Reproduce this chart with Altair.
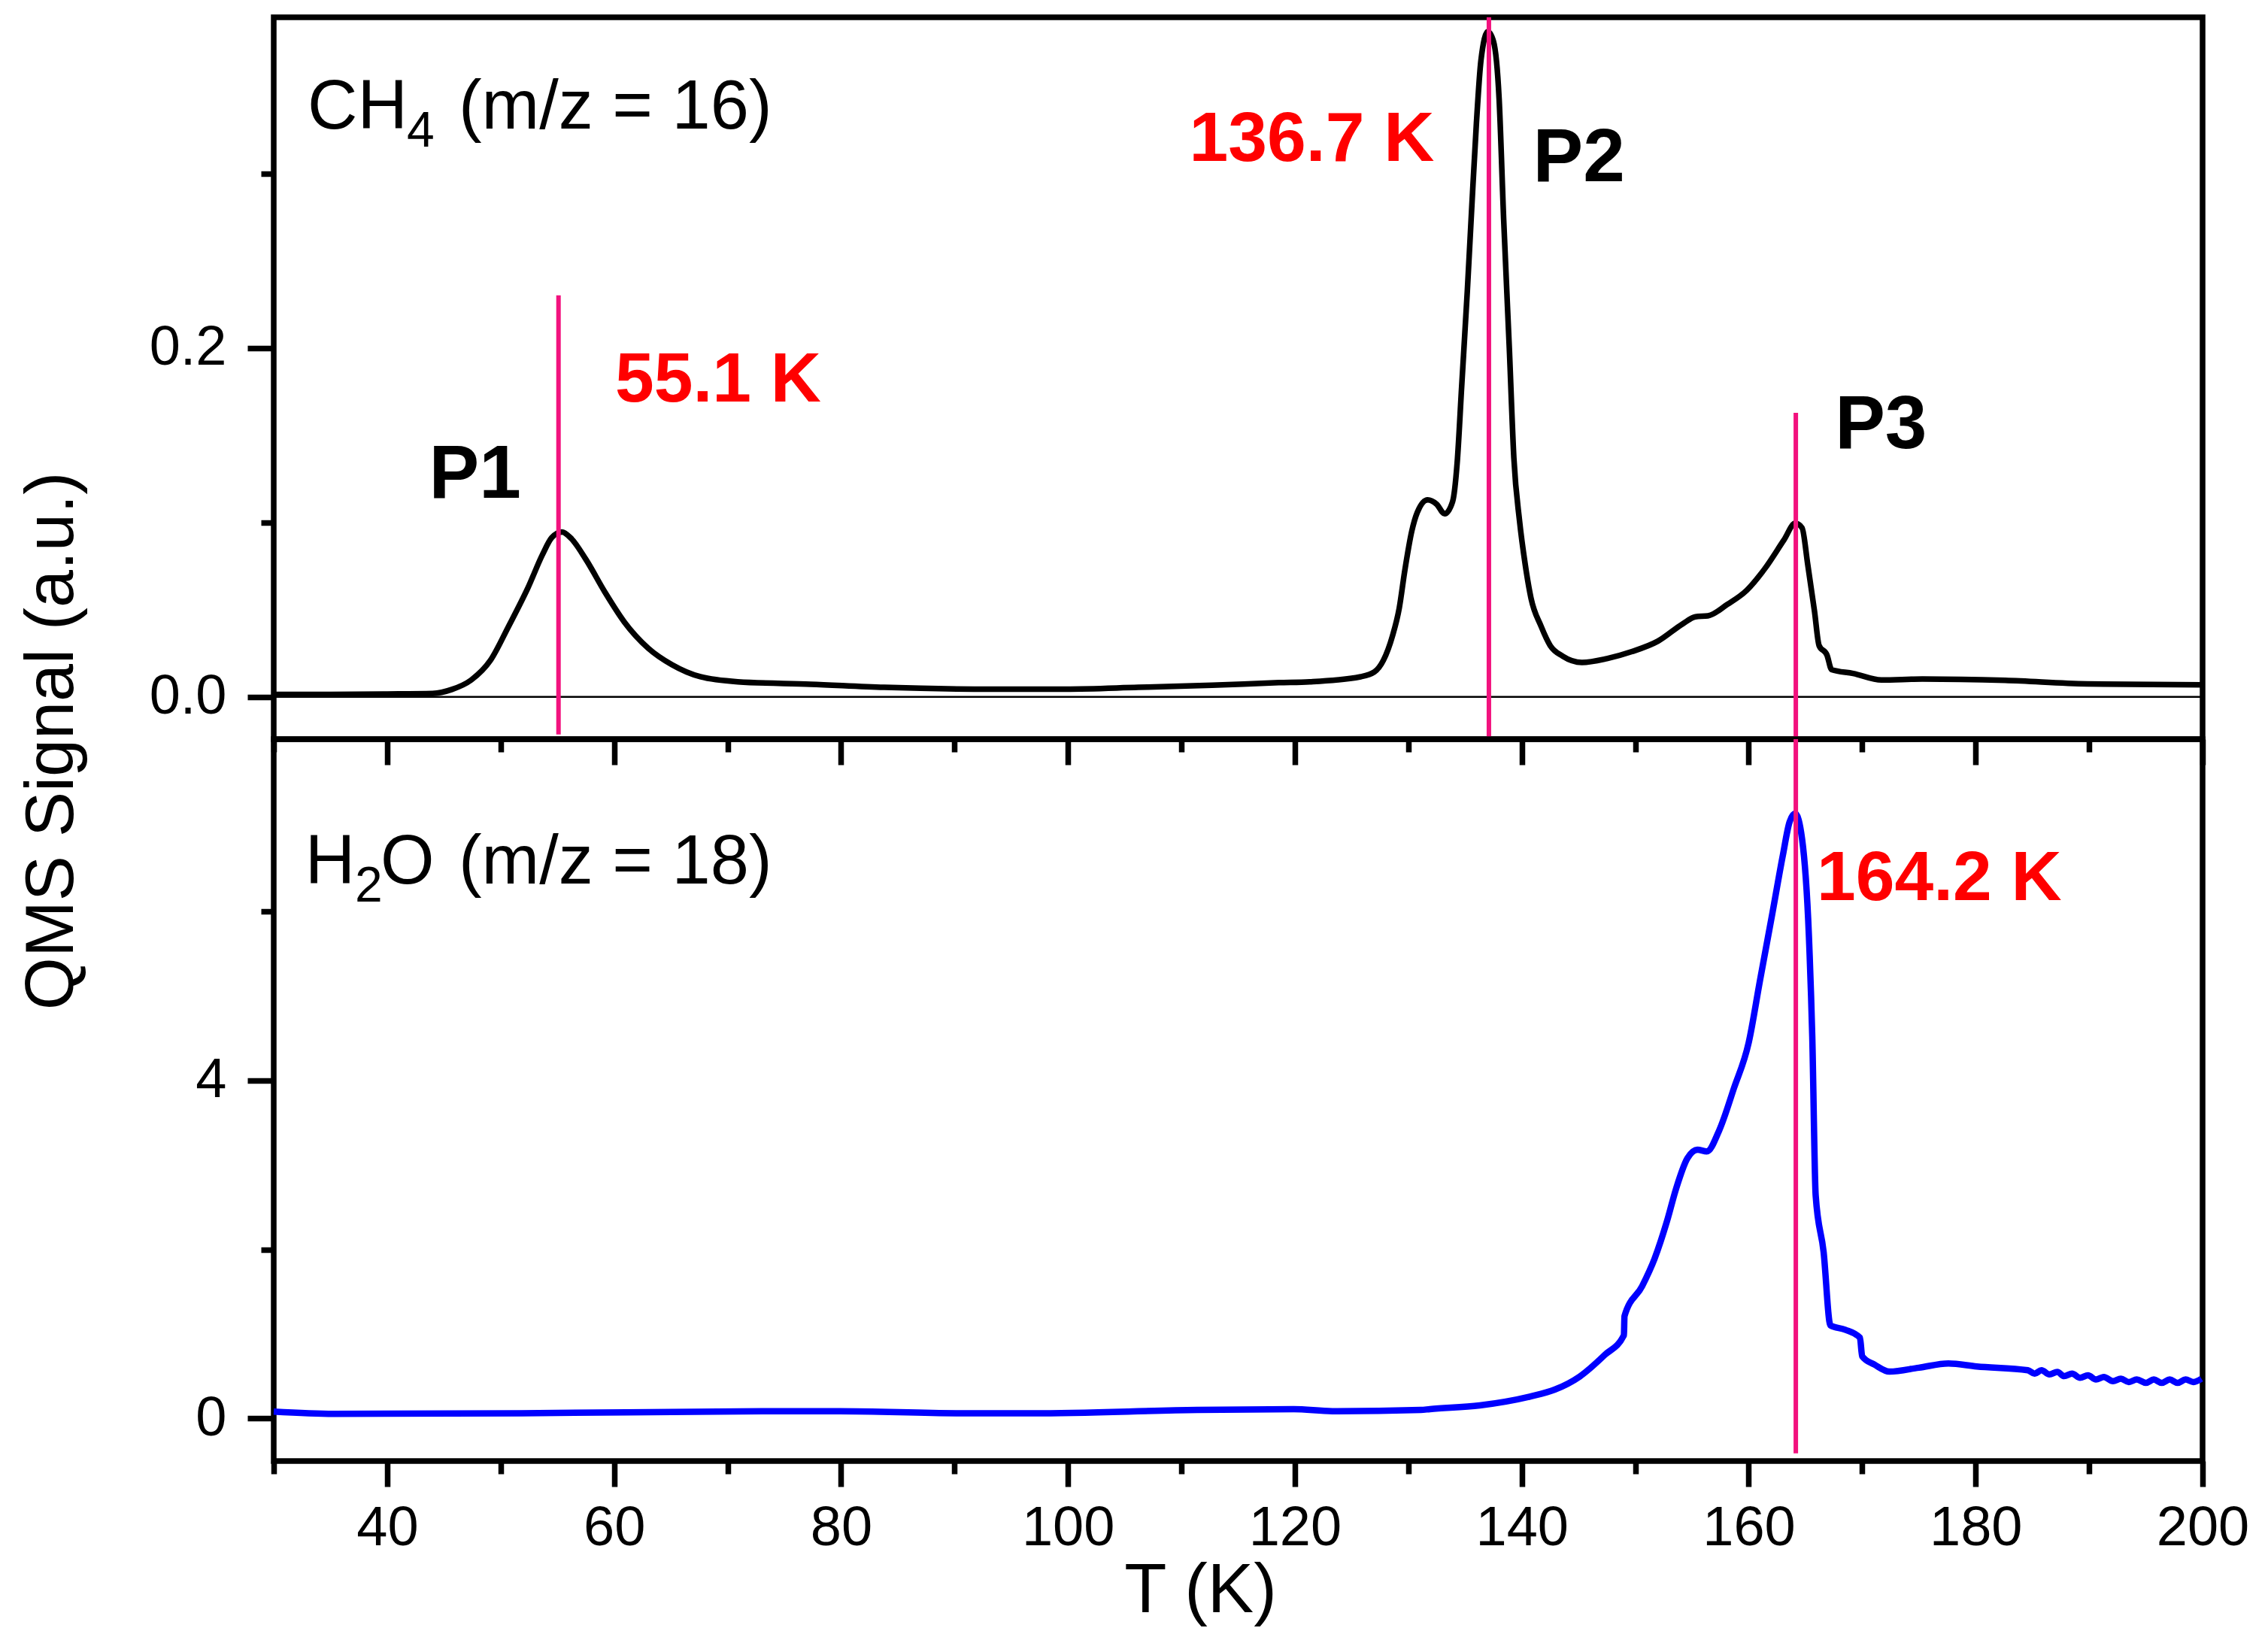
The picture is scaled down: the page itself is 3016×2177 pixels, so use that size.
import altair as alt
import pandas as pd

FONT = "Liberation Sans, Arial, sans-serif"
PINK = "#F2127E"

# ---------------- data ----------------
ch4_T = [30, 35, 40, 44.0, 45.7, 47.4, 49.1, 50.7, 52.4, 53.7, 54.5, 55.4, 56.2, 57.5, 59.2,
         60.9, 63.0, 65.1, 67.6, 70.9, 77.3, 83.8, 93.4, 99.8, 106.2, 112.7, 118.6, 121.3,
         125.8, 127.0, 127.8, 128.6, 129.2, 129.7, 130.3, 130.8, 131.7, 132.5, 133.2, 133.9,
         134.3, 134.7, 135.2, 135.6, 136.0, 136.4, 137.0, 137.5, 138.0, 138.4, 138.9, 139.3,
         139.8, 140.3, 140.8, 141.7, 142.5, 143.6, 145.3, 147.5, 149.7, 152.0, 154.2, 155.3,
         156.4, 158.1, 159.8, 161.4, 163.1, 164.1, 164.7, 165.2, 165.8, 166.2, 166.9, 167.3,
         169.2, 171.7, 175.3, 182.6, 189.8, 200]
ch4_S = [0.0015, 0.0015, 0.0017, 0.002, 0.0043, 0.0097, 0.021, 0.0405, 0.0625, 0.0818, 0.0913,
         0.0946, 0.091, 0.079, 0.060, 0.043, 0.028, 0.0185, 0.0116, 0.0087, 0.0073, 0.0055,
         0.0045, 0.0045, 0.0055, 0.0067, 0.0082, 0.0087, 0.0116, 0.0143, 0.021, 0.035, 0.051,
         0.073, 0.095, 0.106, 0.113, 0.1105, 0.105, 0.112, 0.134, 0.178, 0.233, 0.282, 0.329,
         0.365, 0.3815, 0.376, 0.343, 0.274, 0.200, 0.137, 0.101, 0.076, 0.057, 0.0405, 0.0295,
         0.0234, 0.0198, 0.022, 0.026, 0.032, 0.042, 0.046, 0.0465, 0.053, 0.061, 0.0734, 0.090,
         0.0996, 0.097, 0.076, 0.049, 0.0295, 0.024, 0.0157, 0.0135, 0.0097, 0.0103, 0.0095,
         0.0075, 0.0069]

h2o_T = [30, 35.3, 51.8, 73.3, 79.9, 90.3, 96.9, 111.4, 119.9, 123.3, 131.1, 131.9, 136.3,
         140.7, 142.9, 145.1, 147.3, 149.0, 149.05, 150.6, 151.7, 152.8, 153.6, 154.6, 155.5,
         156.3, 157.4, 158.7, 160.0, 161.0, 162.1, 163.0, 163.6, 164.1, 164.7, 165.3, 165.6,
         165.9, 166.6, 167.2, 168.5, 169.8, 170.0, 171.1, 172.4, 175.0, 177.6, 180.1, 184.6,
         185.2, 185.8, 186.5, 187.2, 187.8, 188.5, 189.2, 189.9, 190.6, 191.3, 192.1, 192.8,
         193.5, 194.2, 195.0, 195.7, 196.4, 197.1, 197.8, 198.5, 199.2, 199.9]
h2o_S = [0.08, 0.053, 0.06, 0.085, 0.085, 0.06, 0.06, 0.10, 0.11, 0.085, 0.10, 0.11, 0.154,
         0.258, 0.34, 0.495, 0.75, 0.985, 1.21, 1.564, 1.89, 2.336, 2.72, 3.08, 3.18, 3.16,
         3.41, 3.91, 4.45, 5.19, 5.99, 6.66, 7.06, 7.16, 6.86, 5.72, 4.52, 2.64, 1.97, 1.10,
         1.05, 0.955, 0.735, 0.635, 0.554, 0.60, 0.65, 0.615, 0.57,
         0.53, 0.57, 0.52, 0.55, 0.50, 0.53, 0.48, 0.51, 0.46, 0.49, 0.44, 0.47, 0.43, 0.46,
         0.42, 0.46, 0.42, 0.46, 0.42, 0.46, 0.43, 0.47]

# peak marker lines (position in K, vertical extent in signal units)
top_line_T = [55.1, 137.1, 164.15]
top_line_y1 = [0.2303, 0.3897, 0.1629]
top_line_y2 = [-0.0215, -0.0242, -0.0242]
bot_line_T = [164.15]
bot_line_y1 = [8.04]
bot_line_y2 = [-0.413]

# annotation texts (anchor in data units)
top_main_txt = ["CH", "(m/z = 16)"]
top_main_T = [32.98, 46.30]
top_main_S = [0.3259, 0.3259]
top_sub_txt = ["4"]
top_sub_T = [41.73]
top_sub_S = [0.3259]
peak_txt = ["P1", "P2", "P3"]
peak_T = [43.69, 140.98, 167.60]
peak_S = [0.1142, 0.2958, 0.1428]
top_red_txt = ["55.1 K", "136.7 K"]
top_red_T = [60.09, 110.7]
top_red_S = [0.1692, 0.3073]

bot_main_txt = ["H", "O", "(m/z = 18)"]
bot_main_T = [32.76, 39.41, 46.30]
bot_main_S = [6.334, 6.334, 6.334]
bot_sub_txt = ["2"]
bot_sub_T = [37.16]
bot_sub_S = [6.334]
bot_red_txt = ["164.2 K"]
bot_red_T = [166.0]
bot_red_S = [6.132]

x_ticks = list(range(30, 201, 10))
top_y_ticks = [0, 0.1, 0.2, 0.3]
bot_y_ticks = [0, 2, 4, 6]

# ---------------- layout ----------------
W = 2565
H_TOP = 960
H_BOT = 960

xdom = alt.Scale(domain=[30, 200], nice=False, zero=False)
ytop = alt.Scale(domain=[-0.0242, 0.3897], nice=False, zero=False)
ybot = alt.Scale(domain=[-0.505, 8.04], nice=False, zero=False)

common_axis = dict(domain=False, grid=False, tickWidth=7.5, tickColor="black",
                   labelFont=FONT, labelFontSize=74, labelColor="black",
                   titleFont=FONT, titleColor="black", titleFontWeight="normal")

x_top_axis = alt.Axis(values=x_ticks, labels=False, title=None,
                      tickSize={"condition": {"test": "datum.value % 20 === 0", "value": 34}, "value": 17},
                      **common_axis)
x_bot_axis = alt.Axis(values=x_ticks, title="T (K)", titleFontSize=92,
                      labelExpr="datum.value % 20 === 0 ? format(datum.value, 'd') : ''",
                      labelPadding=19, labelFlush=False,
                      titleX=1232, titleY=200, titleBaseline="alphabetic", titleAlign="center",
                      tickSize={"condition": {"test": "datum.value % 20 === 0", "value": 34}, "value": 17},
                      **common_axis)
y_top_axis = alt.Axis(values=top_y_ticks, title="QMS Signal (a.u.)", titleFontSize=90,
                      labelExpr="(datum.value === 0 || datum.value === 0.2) ? format(datum.value, '.1f') : ''",
                      labelPadding=28, labelFlush=False,
                      titleAngle=270, titleX=-268, titleY=962, titleBaseline="alphabetic",
                      titleAlign="center",
                      tickSize={"condition": {"test": "datum.value === 0 || datum.value === 0.2", "value": 35}, "value": 17},
                      **common_axis)
y_bot_axis = alt.Axis(values=bot_y_ticks, title=None,
                      labelExpr="datum.value % 4 === 0 ? format(datum.value, 'd') : ''",
                      labelPadding=28, labelFlush=False,
                      tickSize={"condition": {"test": "datum.value % 4 === 0", "value": 35}, "value": 17},
                      **common_axis)


def text_layer(txt, T, S, yscale, size, weight="normal", color="black", dy=0):
    df = pd.DataFrame({"T": T, "S": S, "label": txt})
    return alt.Chart(df).mark_text(font=FONT, fontSize=size, fontWeight=weight, color=color,
                                   align="left", baseline="alphabetic", dy=dy).encode(
        x=alt.X("T:Q", scale=xdom), y=alt.Y("S:Q", scale=yscale), text="label:N")


# ---------------- top panel (CH4) ----------------
ch4_df = pd.DataFrame({"T": ch4_T, "S": ch4_S})
top_curve = alt.Chart(ch4_df).mark_line(color="black", strokeWidth=7.5, interpolate="monotone").encode(
    x=alt.X("T:Q", scale=xdom, axis=x_top_axis),
    y=alt.Y("S:Q", scale=ytop, axis=y_top_axis),
)
zero_df = pd.DataFrame({"S": [0.0]})
zero_line = alt.Chart(zero_df).mark_rule(color="black", strokeWidth=2.5).encode(
    y=alt.Y("S:Q", scale=ytop))
top_lines_df = pd.DataFrame({"T": top_line_T, "y1": top_line_y1, "y2": top_line_y2})
top_lines = alt.Chart(top_lines_df).mark_rule(color=PINK, strokeWidth=6).encode(
    x=alt.X("T:Q", scale=xdom), y=alt.Y("y1:Q", scale=ytop), y2="y2:Q")

top = alt.layer(
    zero_line, top_curve, top_lines,
    text_layer(top_main_txt, top_main_T, top_main_S, ytop, 92),
    text_layer(top_sub_txt, top_sub_T, top_sub_S, ytop, 66, dy=24),
    text_layer(peak_txt, peak_T, peak_S, ytop, 100, weight="bold"),
    text_layer(top_red_txt, top_red_T, top_red_S, ytop, 93, weight="bold", color="#FF0000"),
).properties(width=W, height=H_TOP)

# ---------------- bottom panel (H2O) ----------------
h2o_df = pd.DataFrame({"T": h2o_T, "S": h2o_S})
bot_curve = alt.Chart(h2o_df).mark_line(color="#0000FF", strokeWidth=8.5, interpolate="monotone").encode(
    x=alt.X("T:Q", scale=xdom, axis=x_bot_axis),
    y=alt.Y("S:Q", scale=ybot, axis=y_bot_axis),
)
bot_lines_df = pd.DataFrame({"T": bot_line_T, "y1": bot_line_y1, "y2": bot_line_y2})
bot_lines = alt.Chart(bot_lines_df).mark_rule(color=PINK, strokeWidth=6).encode(
    x=alt.X("T:Q", scale=xdom), y=alt.Y("y1:Q", scale=ybot), y2="y2:Q")

bottom = alt.layer(
    bot_curve, bot_lines,
    text_layer(bot_main_txt, bot_main_T, bot_main_S, ybot, 92),
    text_layer(bot_sub_txt, bot_sub_T, bot_sub_S, ybot, 66, dy=24),
    text_layer(bot_red_txt, bot_red_T, bot_red_S, ybot, 93, weight="bold", color="#FF0000"),
).properties(width=W, height=H_BOT)

chart = alt.vconcat(top, bottom, spacing=0, bounds="flush").properties(
    padding={"left": 12, "top": 8, "right": 0, "bottom": 0},
).configure_view(stroke="black", strokeWidth=7.5)

chart.save("out.html", embed_options={"renderer": "svg", "actions": False})
